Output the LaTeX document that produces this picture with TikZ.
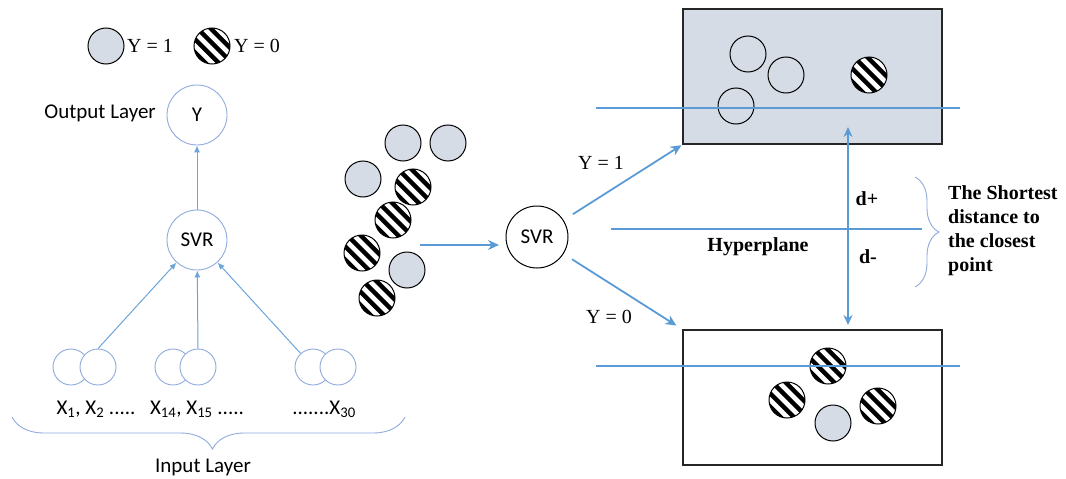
\documentclass[tikz,border=0pt]{standalone}
\usepackage{fontspec}
\setmainfont{Liberation Serif}
\newfontfamily\calfont{Carlito}
\usetikzlibrary{arrows.meta,decorations.pathreplacing,calc}
\definecolor{lb}{HTML}{5B9BD5}
\definecolor{lc}{HTML}{8FAADC}
\definecolor{gf}{HTML}{D6DCE5}
\tikzset{
  basedot/.style={circle,draw=black,line width=1pt,minimum size=36pt,inner sep=0pt},
  gdot/.style={basedot,fill=gf},
  odot/.style={basedot},
  sdot/.style={basedot,fill=white,path picture={
     \foreach \i in {-4,...,4}{
       \draw[line width=4.4pt] ($(path picture bounding box.center)+(\i*6.6,\i*6.6)+(1.5,1.5)+(-30,30)$) -- ++(60,-60);}}},
  lnode/.style={circle,draw=lc,line width=0.9pt,minimum size=60pt,inner sep=0pt,font=\calfont\fontsize{21}{25}\selectfont},
  innode/.style={circle,draw=lc,line width=0.9pt,fill=white,minimum size=36pt,inner sep=0pt},
  svrnode/.style={circle,draw=black,line width=1pt,minimum size=62pt,inner sep=0pt,font=\calfont\fontsize{21}{25}\selectfont},
  sans/.style={font=\calfont\fontsize{21}{25}\selectfont},
  serif/.style={font=\fontsize{20}{24}\selectfont},
  bserif/.style={font=\bfseries\fontsize{20}{24}\selectfont},
  thinarrow/.style={draw=lb!90,line width=1pt,-{Latex[length=7pt,width=6pt]}},
  barrow/.style={draw=lb,line width=1.8pt,-{Stealth[length=11pt,width=10pt]}},
  hline/.style={draw=lb,line width=1.1pt},
  box/.style={rectangle,draw=black!85,line width=1.3pt,minimum width=259pt,minimum height=135pt,inner sep=0pt},
  bracestyle/.style={draw=lc,line width=0.9pt,decorate}
}
\begin{document}
\begin{tikzpicture}[x=1pt,y=1pt]
\useasboundingbox (0,0) rectangle (1066,-479);

% legend
\node[gdot] (lg1) at (106,-46) {};
\node[serif,anchor=west,inner sep=0pt] (lt1) at (127,-46) {Y = 1};
\node[sdot] (lg0) at (212,-46) {};
\node[serif,anchor=west,inner sep=0pt] (lt0) at (234,-46) {Y = 0};

% left network
\node[lnode] (Y) at (197,-115) {Y};
\node[sans,anchor=east,inner sep=0pt] (outl) at (156,-113) {Output Layer};
\node[lnode] (svrL) at (197,-240) {SVR};
\draw[thinarrow] (svrL) -- (Y);

\node[innode] (in1a) at (71,-367) {};
\node[innode] (in1b) at (98,-367) {};
\node[innode] (in2a) at (173,-367) {};
\node[innode] (in2b) at (198,-367) {};
\node[innode] (in3a) at (313,-367) {};
\node[innode] (in3b) at (338,-367) {};
\draw[thinarrow] (in1b.north) -- (svrL);
\draw[thinarrow] (in2b.north) -- (svrL);
\draw[thinarrow] (in3a) -- (svrL);

\node[sans] (x1) at (96,-409) {X\textsubscript{1}, X\textsubscript{2} .....};
\node[sans] (x2) at (197,-409) {X\textsubscript{14}, X\textsubscript{15} .....};
\node[sans] (x3) at (324,-409) {.......X\textsubscript{30}};
\coordinate (brL) at (12,-417);
\coordinate (brR) at (405,-417);
\draw[bracestyle,decoration={brace,amplitude=32pt,aspect=0.49}] (brR) -- (brL);
\node[sans] (inl) at (203,-467) {Input Layer};

% middle cluster
\node[gdot] (c1) at (403,-143) {};
\node[gdot] (c2) at (448,-143) {};
\node[gdot] (c3) at (363,-179) {};
\node[sdot] (c4) at (413,-187) {};
\node[sdot] (c5) at (393,-220) {};
\node[sdot] (c6) at (362,-253) {};
\node[gdot] (c7) at (407,-270) {};
\node[sdot] (c8) at (377,-298) {};

\node[svrnode] (svrM) at (537,-237) {SVR};
\coordinate (cin) at (420,-245);
\coordinate (cout) at (499,-245);
\draw[barrow] (cin) -- (cout);

% boxes
\node[box,fill=gf] (top) at (812.5,-76.5) {};
\node[box,fill=white] (bot) at (812.5,-397.5) {};

\draw[barrow,shorten <=11pt,shorten >=1pt] (svrM) -- (top.south west);
\draw[barrow,shorten <=10pt,shorten >=7pt] (svrM) -- (bot.north west);
\node[serif] (ly1) at (601,-163) {Y = 1};
\node[serif] (ly0) at (609,-317) {Y = 0};

% top box content
\node[odot] (t1) at (748,-54) {};
\node[odot] (t2) at (786,-75) {};
\node[odot] (t3) at (736,-106) {};
\node[sdot] (t4) at (869,-75) {};

% bottom box content
\node[sdot] (b1) at (828,-366) {};
\node[sdot] (b2) at (787,-400) {};
\node[gdot] (b3) at (833,-423) {};
\node[sdot] (b4) at (878,-406) {};

% horizontal lines
\coordinate (h1a) at (596,-108); \coordinate (h1b) at (960,-108);
\coordinate (h2a) at (611,-229); \coordinate (h2b) at (922,-229);
\coordinate (h3a) at (596,-366); \coordinate (h3b) at (960,-366);
\draw[hline] (h1a) -- (h1b);
\draw[hline] (h2a) -- (h2b);
\draw[hline] (h3a) -- (h3b);

\node[bserif] (hyp) at (758,-247) {Hyperplane};

% double arrow
\coordinate (da1) at (848,-127);
\coordinate (da2) at (848,-325);
\draw[barrow,line width=1.6pt,{Stealth[length=10pt,width=9pt]}-{Stealth[length=10pt,width=9pt]}] (da1) -- (da2);
\node[bserif] (dp) at (867,-199) {d+};
\node[bserif] (dm) at (868,-257) {d-};

% right brace and text
\coordinate (rb1) at (915,-177);
\coordinate (rb2) at (915,-287);
\draw[bracestyle,decoration={brace,amplitude=24pt}] (rb1) -- (rb2);
\node[bserif,anchor=west,align=left,inner sep=0pt] (sd) at (948,-231) {The Shortest\\distance to\\the closest\\point};
\end{tikzpicture}
\end{document}
